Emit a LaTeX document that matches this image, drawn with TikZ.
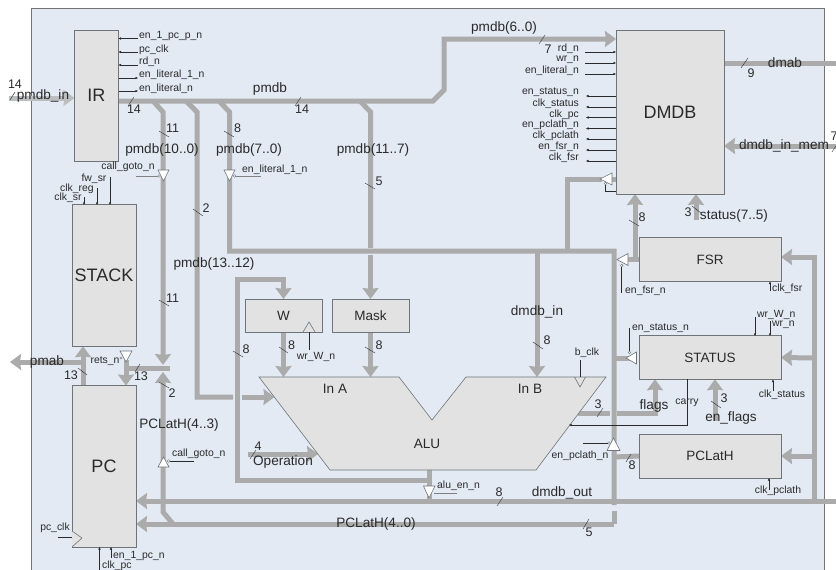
\documentclass[tikz,border=0pt]{standalone}
\usepackage{fontspec}
\setmainfont{Liberation Sans}
\usetikzlibrary{arrows.meta}
\pgfdeclarelayer{bg}
\pgfsetlayers{bg,main}
\definecolor{panelc}{HTML}{E3EAF4}
\definecolor{busc}{HTML}{ABABAB}
\definecolor{blockc}{HTML}{E2E2E2}
\definecolor{edgec}{HTML}{6E7478}
\definecolor{txtc}{HTML}{2A2A2A}
\tikzset{
  bus/.style={draw=busc,line width=5pt,line join=miter},
  busa/.style={bus,-{Stealth[inset=1pt,length=11pt,width=16pt]}},
  block/.style={draw=edgec,fill=blockc,line width=0.7pt,inner sep=0pt,outer sep=0pt,text=txtc},
  big/.style={font=\fontsize{18}{18}\selectfont},
  mid/.style={font=\fontsize{13.5}{14}\selectfont},
  lab/.style={font=\fontsize{13.6}{14}\selectfont,text=txtc,inner sep=0pt},
  num/.style={font=\fontsize{12.5}{13}\selectfont,text=txtc,inner sep=0pt},
  sm/.style={font=\fontsize{10.4}{11}\selectfont,text=txtc,inner sep=0pt},
  ctl/.style={draw=txtc,line width=0.45pt},
  ctla/.style={ctl,-{Latex[length=2.5pt,width=2.5pt]}},
  ctlg/.style={draw=gray,line width=0.45pt},
  tick/.style={draw=txtc,line width=0.4pt},
  tri/.style={draw=edgec,fill=white,line width=0.6pt},
  bub/.style={draw=edgec,fill=white,line width=0.4pt},
}
\begin{document}
\begin{tikzpicture}[x=1pt,y=-1pt]
\useasboundingbox (0,0) rectangle (836,570);

% blocks
\node[block,big,minimum width=43.5pt,minimum height=131pt] (ir) at (96.25,95.5) {IR};
\node[block,big,minimum width=64pt,minimum height=141.5pt] (stack) at (104,275.5) {STACK};
\node[block,big,minimum width=64pt,minimum height=161.5pt] (pc) at (104,466.25) {PC};
\node[block,big,minimum width=108pt,minimum height=164pt] (dmdb) at (670,112) {DMDB};
\node[block,mid,minimum width=142pt,minimum height=43.5pt] (fsr) at (710,259.5) {FSR};
\node[block,mid,minimum width=142pt,minimum height=43.5pt] (status) at (710,357.5) {STATUS};
\node[block,mid,minimum width=142pt,minimum height=44pt] (pclath) at (710,456) {PCLatH};
\node[block,mid,minimum width=77pt,minimum height=33pt] (w) at (283.5,315.5) {W};
\node[block,mid,minimum width=77pt,minimum height=33pt] (mask) at (370.5,315.5) {Mask};
\path[draw=edgec,fill=blockc,line width=0.6pt] (259,377) -- (399,377) -- (432,420) -- (466,377) -- (606,377) -- (536,470) -- (330,470) -- cycle;
\coordinate (alua) at (283.5,377);
\coordinate (alum) at (370.5,377);
\coordinate (alub) at (537,377);
\coordinate (aluo) at (429,470);
\coordinate (pmjog) at (433,101);
\coordinate (rail) at (814,257);

\begin{pgfonlayer}{bg}
\fill[white] (0,0) rectangle (836,570);
\fill[panelc] (31,8.5) rectangle (824,570);
\draw[gray!90!black,line width=0.7pt] (31,570) -- (31,8.5) -- (824,8.5) -- (824,570);
% pmdb_in
\draw[busa,draw=busc!70!panelc] (9,98) -- (ir.west |- 0,98);
% main pmdb
\draw[busa] (ir.east |- 0,101) -- (pmjog) -- (444,90) -- (444,39) -- (dmdb.west |- 0,39);
% branch 10..0
\draw[busa] (153,101) -- (163,112) -- (163,365);
\draw[busa] (173,524) -- (163,512) -- (163,372);
% branch 13..12
\draw[bus] (186,101) -- (197,112) -- (197,397) -- (233,397);
\draw[busa] (242,397) -- (274.5,397);
% branch 7..0
\draw[bus] (219,101) -- (229.5,112) -- (229.5,251) -- (614,251) -- (614,505);
\draw[bus] (614,511) -- (614,524);
% branch 11..7
\draw[bus] (360,101) -- (370.5,112) -- (370.5,248);
\draw[busa] (370.5,255) -- (mask.north);
\draw[busa] (mask.south) -- (alum);
% W feedback
\draw[busa] (429,480) -- (237,480) -- (237,279) -- (283.5,279) -- (w.north);
\draw[busa] (w.south) -- (alua);
\draw[busa] (537,251) -- (alub);
\draw[bus] (aluo) -- (429,500);
% dmdb branch
\draw[bus] (567,253) -- (567,179) -- (602,179);
\draw[bus] (612,179) -- (dmdb.west |- 0,179);
% to PC
\draw[busa] (614,524) -- (pc.east |- 0,524);
\draw[busa] (836,501) -- (pc.east |- 0,501);
% right rail
\draw[busa] (814,501) -- (rail) -- (fsr.east |- rail);
\draw[busa] (814,358) -- (status.east);
\draw[busa] (814,456) -- (pclath.east);
% fsr
\draw[bus] (fsr.west) -- (620,259.5);
\draw[busa] (635,259.5) -- (635,194);
\draw[busa] (696,220) -- (696,194);
% status & flags
\draw[bus] (614,358) -- (630,358);
\draw[bus] (578,413.5) -- (610,413.5);
\draw[busa] (617,413.5) -- (655,413.5) -- (655,0 |- status.south);
\draw[busa] (715,421) -- (715,0 |- status.south);
% pclath
\draw[bus] (pclath.west) -- (614,457);
% operation
\draw[busa] (248,454) -- (318,454);
% dmab, dmdb_in_mem
\draw[bus] (dmdb.east |- 0,63) -- (836,63);
\draw[busa] (836,146) -- (dmdb.east |- 0,146);
% stack / pc
\draw[busa] (83,0 |- pc.north) -- (83,0 |- stack.south);
\draw[busa] (85,362) -- (10,362);
\draw[busa] (126,360) -- (126,0 |- pc.north);
\draw[bus] (124,368.5) -- (170,368.5);
\end{pgfonlayer}

% tristate buffers
\draw[tri] (158,170) -- (169,170) -- (163.5,181) -- cycle;
\draw[ctlg] (136,176) -- (158,176);
\draw[bub] (159,176) circle (1.3);
\draw[tri] (224,170) -- (235,170) -- (229.5,181) -- cycle;
\draw[ctlg] (235,176) -- (261,176);
\draw[bub] (234.5,176) circle (1.3);
\draw[tri] (158,467) -- (169,467) -- (163.5,457) -- cycle;
\draw[ctl] (170,461) -- (194,461);
\draw[bub] (168.5,461) circle (1.3);
\draw[tri] (120,351) -- (132,351) -- (126,362) -- cycle;
\draw[bub] (121,358) circle (1.2);
\draw[tri] (423.5,486) -- (435,486) -- (429,498) -- cycle;
\draw[ctlg] (434,493) -- (457,493);
\draw[tri] (612,173) -- (612,185) -- (600,179) -- cycle;
\draw[bub] (605.5,183.5) circle (1.3);
\draw[ctl] (605.5,185) -- (605.5,191) -- (616,191);
\draw[tri] (628,253.5) -- (628,265.5) -- (617,259.5) -- cycle;
\draw[bub] (621.7,265.5) circle (1.3);
\draw[ctl] (621.7,267) -- (621.7,293);
\draw[tri] (636.5,352) -- (636.5,364) -- (626,358) -- cycle;
\draw[bub] (629.5,352.5) circle (1.3);
\draw[ctl] (629.5,351) -- (629.5,328);
\draw[tri] (607,450.5) -- (620,450.5) -- (613.5,438) -- cycle;
\draw[bub] (609,443) circle (1.3);
\draw[ctl] (583,443) -- (607.5,443);

% clock triangles
\draw[draw=edgec,line width=0.6pt] (303,332) -- (309,322) -- (315,332);
\draw[ctl] (309,332) -- (309,350);
\draw[draw=edgec,line width=0.6pt] (574.5,377) -- (580,387) -- (585.5,377);
\draw[ctl] (580,377) -- (580,360);
\draw[draw=edgec,line width=0.6pt,fill=blockc] (72,531) -- (82,538) -- (72,547);
\draw[ctl] (58,537.5) -- (72,537.5);

% IR controls
\draw[ctla] (138,38.5) -- (118.5,38.5);
\draw[ctla] (138,52) -- (118.5,52);
\draw[ctla] (138,65) -- (118.5,65);
\draw[ctla] (118.5,78) -- (138,78);
\draw[ctla] (118.5,91) -- (138,91);
\node[sm,right] (a1) at (139,36.5) {en\_1\_pc\_p\_n};
\node[sm,right] (a2) at (139,49.5) {pc\_clk};
\node[sm,right] (a3) at (139,62) {rd\_n};
\node[sm,right] (a4) at (139,75) {en\_literal\_1\_n};
\node[sm,right] (a5) at (139,88.5) {en\_literal\_n};
% STACK controls
\draw[ctla] (84,197) -- (84,205);
\draw[ctla] (97,188) -- (97,205);
\draw[ctla] (110,177) -- (110,205);
\node[sm] (b1) at (94,179) {fw\_sr};
\node[sm] (b2) at (77,188.5) {clk\_reg};
\node[sm] (b3) at (68,198) {clk\_sr};
% PC controls
\draw[ctla] (99.5,570) -- (99.5,547);
\draw[ctla] (111,558) -- (111,547);
\node[sm,right] (c1) at (113,556) {en\_1\_pc\_n};
\node[sm,right] (c2) at (102,566) {clk\_pc};
\node[sm] (c3) at (55,528) {pc\_clk};
% DMDB controls
\draw[ctla] (585,52) -- (616,52);
\draw[ctla] (585,63) -- (616,63);
\draw[ctla] (585,74) -- (616,74);
\foreach \yy in {96,107,117.5,128.5,139,150,161} {\draw[ctla] (616,\yy) -- (586,\yy);}
\node[sm,left] (d1) at (579,49) {rd\_n};
\node[sm,left] (d2) at (579,60) {wr\_n};
\node[sm,left] (d3) at (579,71) {en\_literal\_n};
\node[sm,left] (d4) at (579,92.5) {en\_status\_n};
\node[sm,left] (d5) at (579,103.5) {clk\_status};
\node[sm,left] (d6) at (579,114.5) {clk\_pc};
\node[sm,left] (d7) at (579,125) {en\_pclath\_n};
\node[sm,left] (d8) at (579,136) {clk\_pclath};
\node[sm,left] (d9) at (579,147) {en\_fsr\_n};
\node[sm,left] (d10) at (579,158) {clk\_fsr};
% FSR / STATUS / PCLatH controls
\draw[ctla] (770,291) -- (770,281.5);
\draw[ctla] (755,317) -- (755,336);
\draw[ctla] (770,321) -- (770,336);
\draw[ctla] (773,391) -- (773,379.5);
\draw[ctla] (769,490) -- (769,478);
\draw[ctla] (687,379) -- (687,425) -- (569,425);
\node[sm,right] (e1) at (625,291) {en\_fsr\_n};
\node[sm,right] (e2) at (772,289) {clk\_fsr};
\node[sm,right] (e3) at (757,314.5) {wr\_W\_n};
\node[sm,right] (e4) at (772,325) {wr\_n};
\node[sm,right] (e5) at (632,328) {en\_status\_n};
\node[sm] (e6) at (782,395) {clk\_status};
\node[sm] (e7) at (778,491) {clk\_pclath};
\node[sm] (e8) at (580,455.5) {en\_pclath\_n};
\node[sm] (e9) at (687,403) {carry};
\node[sm] (e10) at (587,353) {b\_clk};
\node[sm] (e11) at (316,357) {wr\_W\_n};
\node[sm,right] (e12) at (437,486) {alu\_en\_n};
\node[sm] (e13) at (128,167) {call\_goto\_n};
\node[sm,right] (e14) at (242,170) {en\_literal\_1\_n};
\node[sm,right] (e15) at (172,454) {call\_goto\_n};
\node[sm] (e16) at (105,361) {rets\_n};

% bus labels
\node[lab] (f1) at (43,96) {pmdb\_in};
\node[lab] (f2) at (270,89) {pmdb};
\node[lab] (f3) at (162,150) {pmdb(10..0)};
\node[lab] (f4) at (249,150) {pmdb(7..0)};
\node[lab] (f5) at (214,264) {pmdb(13..12)};
\node[lab] (f6) at (373,150) {pmdb(11..7)};
\node[lab] (f7) at (504,28) {pmdb(6..0)};
\node[lab] (f8) at (179,425) {PCLatH(4..3)};
\node[lab] (f9) at (47,362) {pmab};
\node[lab] (f10) at (785,62.5) {dmab};
\node[lab] (f11) at (784,146) {dmdb\_in\_mem};
\node[lab] (f12) at (734,215.5) {status(7..5)};
\node[lab] (f13) at (537,312) {dmdb\_in};
\node[lab] (f14) at (283,462) {Operation};
\node[lab] (f15) at (562,492.5) {dmdb\_out};
\node[lab] (f16) at (376,524) {PCLatH(4..0)};
\node[lab] (f17) at (654,406) {flags};
\node[lab] (f18) at (731,418) {en\_flags};
\node[lab] (f19) at (335,389) {In A};
\node[lab] (f20) at (530,389) {In B};
\node[lab] (f21) at (427,444) {ALU};

% width ticks and numbers
\draw[tick] (10,100) -- (15,92);      \node[num] (n1) at (15,84) {14};
\draw[tick] (128,106) -- (134,97);    \node[num] (n2) at (134,109.5) {14};
\draw[tick] (295,106) -- (301,97);    \node[num] (n3) at (302,109.5) {14};
\draw[tick] (539,44) -- (545,35);     \node[num] (n4) at (548,49.5) {7};
\draw[tick] (159,131) -- (169,137);   \node[num] (n5) at (172.5,128) {11};
\draw[tick] (224,131) -- (234,137);   \node[num] (n6) at (237.5,128) {8};
\draw[tick] (193,209) -- (203,216);   \node[num] (n7) at (206,208) {2};
\draw[tick] (365,183) -- (375,189);   \node[num] (n8) at (379,181.5) {5};
\draw[tick] (159,300) -- (169,306);   \node[num] (n9) at (172.5,298.5) {11};
\draw[tick] (159,382) -- (169,388);   \node[num] (n10) at (172,393) {2};
\draw[tick] (78,368) -- (87,375);     \node[num] (n11) at (71,375.5) {13};
\draw[tick] (135,372) -- (140,364);   \node[num] (n12) at (141,376.5) {13};
\draw[tick] (233,351) -- (243,357);   \node[num] (n13) at (246,349.5) {8};
\draw[tick] (279,347) -- (288,353);   \node[num] (n14) at (291.5,345.5) {8};
\draw[tick] (365,347) -- (375,353);   \node[num] (n15) at (379,345.5) {8};
\draw[tick] (533,342) -- (543,349);   \node[num] (n16) at (547,340.5) {8};
\draw[tick] (250,459) -- (256,450);   \node[num] (n17) at (258,446) {4};
\draw[tick] (497,506) -- (503,497);   \node[num] (n18) at (499,492) {8};
\draw[tick] (583,529) -- (589,519);   \node[num] (n19) at (589,532) {5};
\draw[tick] (597,417) -- (603,408);   \node[num] (n20) at (598,404) {3};
\draw[tick] (711,401) -- (721,408);   \node[num] (n21) at (724,398.5) {3};
\draw[tick] (626,462) -- (631,454);   \node[num] (n22) at (632,465) {8};
\draw[tick] (629,220) -- (639,226);   \node[num] (n23) at (642,217.5) {8};
\draw[tick] (692,206) -- (701,213);   \node[num] (n24) at (688,212.5) {3};
\draw[tick] (741,68) -- (748,58);     \node[num] (n25) at (751,73.5) {9};
\node[num] (n26) at (834,136) {7};
\draw[tick] (832,152) -- (836,146);
\end{tikzpicture}
\end{document}
